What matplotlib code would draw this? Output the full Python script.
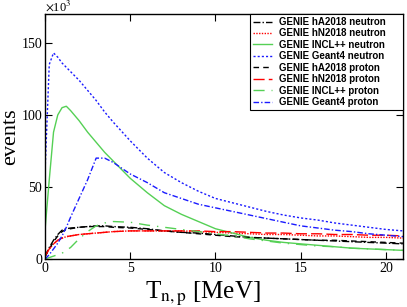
import matplotlib
matplotlib.use('Agg')
import matplotlib.pyplot as plt

# kinetic energy grid [MeV]
T = [0, 0.25, 0.5, 0.75, 1, 1.25, 1.5, 2, 2.5, 3, 3.5, 4, 5, 6, 7, 8, 9, 10,
     11, 12, 13, 14, 15, 16, 17, 18, 19, 20, 21]

# events (x10^3)
hA_neutron = [2, 8, 13, 17, 20, 21, 21.5, 22, 22.5, 23, 23, 22.5, 22, 21, 19.5,
              18.5, 18, 17, 16, 15, 14.5, 14, 13.5, 13, 12.5, 12, 11.5, 11, 10.5]
hN_neutron = [2, 7, 10.5, 13, 14.5, 15.5, 16, 17, 17.5, 18, 18.5, 19, 19.5, 19.5,
              19.5, 19.5, 19, 18.5, 18, 17.5, 17, 17, 16.5, 16, 16, 15.5, 15, 15, 14.5]
incl_neutron = [20, 55, 88, 100, 105, 106, 103, 96, 88, 81, 74, 68, 56, 46, 37,
                31, 26, 21, 18, 15, 13, 11.5, 10.5, 9.5, 8.5, 7.5, 7, 6.5, 6]
g4_neutron = [60, 135, 143, 140, 136, 133, 130, 124, 117, 110, 102, 95, 82, 70, 60,
              53, 47, 42, 39, 36, 33, 30.5, 28.5, 27, 25, 23.5, 22, 20.5, 19.5]
hA_proton = [1.5, 7, 12, 16, 19, 20.5, 21, 22, 22.5, 22.5, 22.5, 22, 21.5, 20.5,
             19.5, 18.5, 17.5, 16.5, 15.5, 15, 14.5, 14, 13.5, 13, 13, 12.5, 12, 11.5, 11]
hN_proton = [2, 7, 10.5, 13, 14.5, 15.5, 16, 17, 17.5, 18, 18.5, 19, 19.5, 19.5,
             19.5, 19.5, 19.5, 19, 19, 18.5, 18, 18, 17.5, 17.5, 17, 17, 16.5, 16.5, 16]
incl_proton = [0, 1, 2, 3, 4, 6, 8, 14, 19, 23, 25, 26, 25.5, 23.5, 22, 20.5, 19,
               17.5, 16, 14, 12.5, 11, 10, 9, 8.5, 7.5, 7, 6.5, 6]
g4_proton = [0, 3, 7, 11, 16, 22, 29, 42, 55, 70, 70, 67, 59, 53, 46, 42, 38, 35.5,
             33, 30.5, 28, 25.5, 23, 21.5, 20, 19, 17.5, 16.5, 15.5]

labels = ['GENIE hA2018 neutron', 'GENIE hN2018 neutron', 'GENIE INCL++ neutron',
          'GENIE Geant4 neutron', 'GENIE hA2018 proton', 'GENIE hN2018 proton',
          'GENIE INCL++ proton', 'GENIE Geant4 proton']

green = '#55d055'
blue = '#1a1aff'
series = [
    (hA_neutron, 'black', (0, (5, 1.5, 1, 1.5))),
    (hN_neutron, 'red', (0, (1, 1))),
    (incl_neutron, green, '-'),
    (g4_neutron, blue, (0, (1.5, 1.5))),
    (hA_proton, 'black', (0, (4, 3))),
    (hN_proton, 'red', (0, (8, 3))),
    (incl_proton, green, (0, (8, 5, 1, 5))),
    (g4_proton, blue, (0, (4, 1.5, 1, 1.5))),
]

plt.rcParams['mathtext.fontset'] = 'stix'
fig = plt.figure(figsize=(4.07, 3.07), dpi=100)
ax = fig.add_axes([45/407, 1 - 259/307, 358/407, 245/307])

for (vals, col, ls), lab in zip(series, labels):
    ax.plot(T, vals, color=col, linestyle=ls, linewidth=1.0, label=lab)

ax.set_xlim(0, 21)
ax.set_ylim(0, 170)
ax.set_xticks([0, 5, 10, 15, 20])
ax.set_yticks([0, 50, 100, 150])
ax.tick_params(direction='in', length=5, top=True, right=True, pad=2)
for lbl in ax.get_xticklabels() + ax.get_yticklabels():
    lbl.set_fontfamily('Liberation Serif')
    lbl.set_fontsize(10)
for s in ax.spines.values():
    s.set_linewidth(1.0)

ax.text(0, 1.003, r'$\times$10$^3$', transform=ax.transAxes, fontsize=9,
        family='Liberation Serif', va='bottom', ha='left')

ax.set_xlabel(r'T$_{\rm n,p}$ [MeV]', fontsize=18, family='Liberation Serif')
ax.xaxis.set_label_coords(0.44, -0.085)
ax.set_ylabel('events', fontsize=16, family='Liberation Serif')
ax.yaxis.set_label_coords(-0.07, 0.5)

# legend spans from x=250 px to the right spine
x0 = (250 - 45) / 358
leg = ax.legend(loc='upper left', bbox_to_anchor=(x0, 0, 1 - x0, 1), mode='expand',
                borderaxespad=0,
                prop={'family': 'Liberation Sans', 'weight': 'bold', 'size': 7},
                handlelength=2.0, handletextpad=0.7, labelspacing=0.15,
                fancybox=False, framealpha=1, edgecolor='black', borderpad=0.3)
leg.get_frame().set_linewidth(0.8)

fig.savefig('out.png', dpi=100)
